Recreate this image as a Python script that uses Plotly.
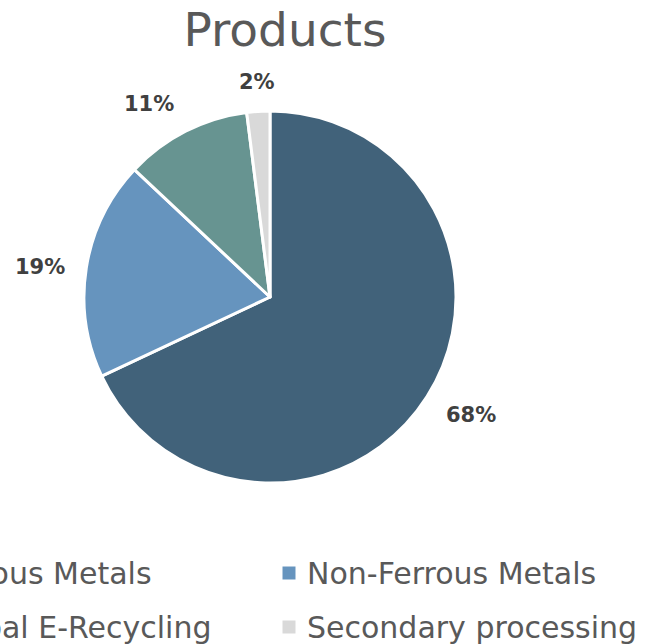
import math
import plotly.graph_objects as go

# Product mix shares (percent)
labels = ["Ferrous Metals", "Non-Ferrous Metals", "Global E-Recycling", "Secondary processing"]
values = [68, 19, 11, 2]
colors = ["#41627A", "#6694BE", "#679491", "#D9D9D9"]

W, H = 648, 644
cx, cy, r = 270, 297, 186

fig = go.Figure(
    go.Pie(
        labels=labels,
        values=values,
        sort=False,
        direction="clockwise",
        rotation=0,
        marker=dict(colors=colors, line=dict(color="white", width=3)),
        textinfo="none",
        showlegend=False,
        hoverinfo="label+percent",
        domain=dict(
            x=[(cx - r) / W, (cx + r) / W],
            y=[1 - (cy + r) / H, 1 - (cy - r) / H],
        ),
    )
)

annotations = []
shapes = []

# Percentage labels just outside each slice, at the slice's mid-angle
total = sum(values)
cum = 0.0
label_r = r + 20
for v in values:
    mid = (cum + v / 2) / total * 2 * math.pi
    cum += v
    s, c = math.sin(mid), math.cos(mid)
    px = cx + label_r * s
    py = cy - label_r * c
    xa = "center" if abs(s) < 0.3 else ("left" if s > 0 else "right")
    ya = "middle" if abs(c) < 0.3 else ("bottom" if c > 0 else "top")
    ys = {"bottom": -5, "top": 6, "middle": -2}[ya]
    annotations.append(dict(
        text=f"{v / total * 100:.0f}%", xref="paper", yref="paper",
        x=px / W, y=1 - py / H, xanchor=xa, yanchor=ya, yshift=ys,
        showarrow=False,
        font=dict(family="DejaVu Sans", size=21, color="#404040", weight="bold"),
    ))

# Two-column legend below the pie, built from the same labels/colours
col_x = [-85, 289]       # marker centres (px)
row_y = [573, 627]       # row centres (px)
for i, (lab, col) in enumerate(zip(labels, colors)):
    mx = col_x[i % 2]
    my = row_y[i // 2]
    shapes.append(dict(
        type="rect", xref="paper", yref="paper",
        x0=(mx - 6.5) / W, x1=(mx + 6.5) / W,
        y0=1 - (my + 6.5) / H, y1=1 - (my - 6.5) / H,
        fillcolor=col, line=dict(width=0),
    ))
    annotations.append(dict(
        text=lab, xref="paper", yref="paper",
        x=(mx + 16) / W, y=1 - my / H,
        xanchor="left", yanchor="middle", showarrow=False,
        font=dict(family="DejaVu Sans", size=30, color="#595959"),
    ))

fig.update_layout(
    width=W, height=H,
    margin=dict(l=0, r=0, t=0, b=0),
    paper_bgcolor="white",
    plot_bgcolor="white",
    title=dict(
        text="Products",
        x=285 / W, xanchor="center",
        y=1 - 30 / H, yanchor="middle", yref="container",
        font=dict(family="DejaVu Sans", size=47, color="#595959"),
    ),
    annotations=annotations,
    shapes=shapes,
)

fig.write_html("out.html")
